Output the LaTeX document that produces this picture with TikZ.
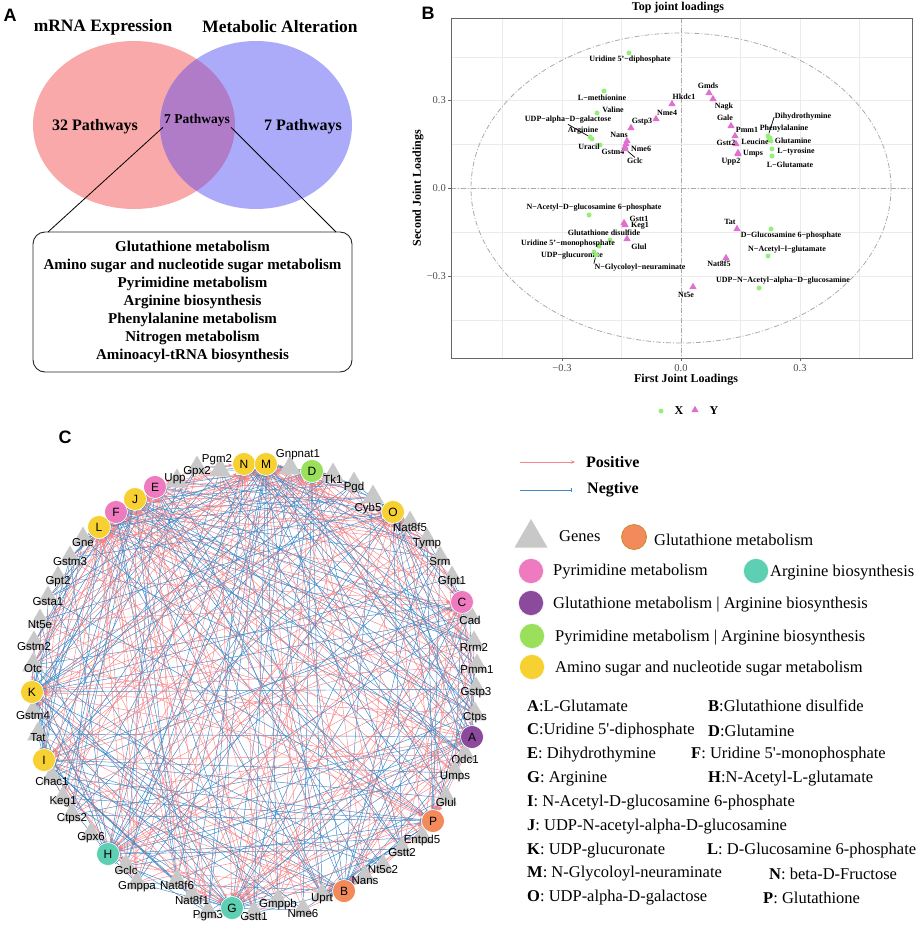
\documentclass[tikz,border=0pt]{standalone}
\usepackage{fontspec}
\setmainfont{Liberation Serif}
\setsansfont{Liberation Sans}
\usetikzlibrary{shapes.geometric,arrows.meta}
\pgfdeclarelayer{links}
\pgfsetlayers{links,main}
%
\definecolor{vennred}{HTML}{F9A9A9}
\definecolor{vennblue}{HTML}{ABABFA}
\definecolor{vennmix}{HTML}{B07CC8}
\definecolor{ptgreen}{HTML}{98EE78}
\definecolor{ptpink}{HTML}{E070D0}
\definecolor{gridgray}{HTML}{EBEBEB}
\definecolor{axgray}{HTML}{AAAAAA}
\definecolor{genegray}{HTML}{C8C8C8}
\definecolor{metyel}{HTML}{F7D031}
\definecolor{metpnk}{HTML}{EE7AC0}
\definecolor{metgrn}{HTML}{9BE05A}
\definecolor{mettea}{HTML}{5DCFB2}
\definecolor{metpur}{HTML}{8B4A9C}
\definecolor{metorg}{HTML}{F28A5B}
\definecolor{orgborder}{HTML}{C98A2A}
\definecolor{poslink}{HTML}{F4858B}
\definecolor{neglink}{HTML}{3F86C4}
%
\begin{document}
\begin{tikzpicture}
[
 x=1pt, y=-1pt,
 inner sep=0.5mm,
 PANEL/.style={font=\fontsize{18}{18}\selectfont\sffamily\bfseries},
 VTITLE/.style={font=\fontsize{17.4}{18}\selectfont\bfseries},
 VCOUNT/.style={font=\fontsize{16}{18}\selectfont\bfseries},
 VMID/.style={font=\fontsize{13.5}{15}\selectfont\bfseries, inner sep=1pt},
 PATHBOX/.style={rectangle, rounded corners=12pt, draw=black!85, line width=0.9pt, minimum width=319pt, minimum height=140pt, align=center, font=\fontsize{15}{18}\selectfont\bfseries},
 PTITLE/.style={font=\fontsize{12}{12}\selectfont\bfseries},
 AXTITLE/.style={font=\fontsize{12}{12}\selectfont\bfseries},
 TICKLBL/.style={font=\fontsize{10.5}{11}\selectfont, text=black!70, inner sep=1pt},
 GRIDMAJ/.style={draw=gridgray, line width=0.7pt},
 GRIDMIN/.style={draw=gridgray, line width=0.35pt},
 AXDASH/.style={draw=axgray, line width=0.8pt, dash pattern=on 5pt off 2pt on 1pt off 2pt},
 FRAME/.style={draw=black!60, line width=0.8pt},
 PTX/.style={circle, fill=ptgreen, minimum size=5pt, inner sep=0pt},
 PTY/.style={regular polygon, regular polygon sides=3, fill=ptpink, minimum size=8.5pt, inner sep=0pt},
 PLBL/.style={font=\fontsize{8}{9}\selectfont\bfseries, inner sep=0.5pt},
 LEAD/.style={draw=black, line width=0.7pt},
 GENE/.style={regular polygon, regular polygon sides=3, fill=genegray, minimum size=25pt, inner sep=0pt},
 GLBL/.style={font=\fontsize{11.5}{12}\selectfont\sffamily, inner sep=0pt},
 METAB/.style={circle, draw=white, line width=0.6pt, minimum size=23pt, inner sep=0pt, font=\fontsize{12}{12}\selectfont\sffamily},
 POSLINK/.style={draw=poslink, line width=0.45pt, -{Stealth[length=4pt, width=3.5pt]}},
 NEGLINK/.style={draw=neglink, line width=0.45pt, -{Bar[width=3.5pt]}},
 LEGTXT/.style={anchor=west, inner sep=0pt, font=\fontsize{16.5}{18}\selectfont},
 LEGBOLD/.style={anchor=west, inner sep=0pt, font=\fontsize{16}{18}\selectfont\bfseries},
 LEGDOT/.style={circle, draw=white, minimum size=25pt, inner sep=0pt},
 ]
\useasboundingbox (0,0) rectangle (920,925);
%
% ---------------- A : venn
\node [PANEL]  (labA)  at ( 10, 15) {A};
\node [VTITLE] (tmrna) at (103, 27) {mRNA Expression};
\node [VTITLE] (tmeta) at (280, 27) {Metabolic Alteration};
\fill [vennred]  (134,125) ellipse [x radius=101pt, y radius=84pt];
\fill [vennblue] (256,125) ellipse [x radius=96pt, y radius=84pt];
\begin{scope}
  \clip (134,125) ellipse [x radius=101pt, y radius=84pt];
  \fill [vennmix] (256,125) ellipse [x radius=96pt, y radius=84pt];
\end{scope}
\node [VCOUNT] (cleft)  at ( 95,127) {32 Pathways};
\node [VMID]   (cmid)   at (197,120) {7 Pathways};
\node [VCOUNT] (cright) at (303,127) {7 Pathways};
%
\node [PATHBOX] (pbox) at (192.5,302) {Glutathione metabolism\\
  Amino sugar and nucleotide sugar metabolism\\
  Pyrimidine metabolism\\
  Arginine biosynthesis\\
  Phenylalanine metabolism\\
  Nitrogen metabolism\\
  Aminoacyl-tRNA biosynthesis};
\coordinate (boxL) at ( 48,232);
\coordinate (boxR) at (336,232);
\draw [line width=0.8pt] (cmid.south west) -- (boxL);
\draw [line width=0.8pt] (cmid.south east) -- (boxR);
%
% ---------------- B : joint loadings
\node [PANEL]  (labB) at (428, 13) {B};
\node [PTITLE] (ptit) at (678,  8) {Top joint loadings};
\foreach \gx in {502,621,740,859} { \draw [GRIDMIN] (\gx,18) -- (\gx,358); }
\foreach \gx in {562,681,800}     { \draw [GRIDMAJ] (\gx,18) -- (\gx,358); }
\foreach \gy in {57,144,232,320}  { \draw [GRIDMIN] (451,\gy) -- (912,\gy); }
\foreach \gy in {100,188,276}     { \draw [GRIDMAJ] (451,\gy) -- (912,\gy); }
\draw [AXDASH] (681,18) -- (681,358);
\draw [AXDASH] (451,188) -- (912,188);
\draw [AXDASH] (681,188) ellipse [x radius=210pt, y radius=155pt];
\draw [FRAME] (451,18) rectangle (912,358);
%
\foreach \ty/\tl [count=\i] in {100/0.3, 188/0.0, 276/−0.3}
  {
    \draw [FRAME] (448,\ty) -- (451,\ty);
    \node [TICKLBL, anchor=east] (yt\i) at (447,\ty) {\tl};
  }
\foreach \tx/\tl [count=\i] in {562/−0.3, 681/0.0, 800/0.3}
  {
    \draw [FRAME] (\tx,358) -- (\tx,361);
    \node [TICKLBL] (xt\i) at (\tx,368) {\tl};
  }
\node [AXTITLE, rotate=90] (ytit) at (418,188) {Second Joint Loadings};
\node [AXTITLE]            (xtit) at (686,380) {First Joint Loadings};
%
\foreach \px/\py/\lx/\ly/\txt [count=\i] in
  {629/53/630/60/Uridine 5'−diphosphate,
   604/91/602/98/L−methionine,
   597/113/613/110/Valine,
   590/137/568/120/UDP−alpha−D−galactose,
   592/139/583/131/Arginine,
   600/145/589/147/Uracil,
   768/136/803/117/Dihydrothymine,
   770/138/784/129/Phenylalanine,
   771/141/793/141/Glutamine,
   769/139/755/142/Leucine,
   772/149/796/152/L−tyrosine,
   772/156/790/165/L−Glutamate,
   589/215/594/208/N−Acetyl−D−glucosamine 6−phosphate,
   610/240/604/233/Glutathione disulfide,
   599/246/568/244/Uridine 5'−monophosphate,
   594/252/572/256/UDP−glucuronate,
   596/255/640/268/N−Glycoloyl−neuraminate,
   771/229/791/236/D−Glucosamine 6−phosphate,
   768/256/787/250/N−Acetyl−l−glutamate,
   759/288/783/281/UDP−N−Acetyl−alpha−D−glucosamine}
  {
    \node [PTX]  (gx\i) at (\px,\py) {};
    \node [PLBL] (lx\i) at (\lx,\ly) {\txt};
  }
\foreach \px/\py/\lx/\ly/\txt [count=\i] in
  {709/93/708/86/Gmds, 713/99/724/107/Nagk, 672/104/684/97/Hkdc1,
   656/119/667/113/Nme4, 631/128/642/122/Gstp3, 627/141/619/135/Nans,
   626/144/641/149/Nme6, 625/147/613/152/Gstm4, 625/149/635/161/Gclc,
   731/126/725/118/Gale, 735/136/747/130/Pmm1, 736/144/726/143/Gstt2,
   738/153/753/154/Umps, 738/154/731/162/Upp2, 624/223/639/219/Gstt1,
   625/225/640/226/Keg1, 627/239/639/247/Glul, 737/229/730/222/Tat,
   726/258/719/264/Nat8f5, 693/287/686/295/Nt5e}
  {
    \node [PTY]  (gy\i) at (\px,\py) {};
    \node [PLBL] (ly\i) at (\lx,\ly) {\txt};
  }
\draw [LEAD] (lx4.south) -- (gx4);
\draw [LEAD] (lx7.west)  -- (gx7);
\draw [LEAD] (gy9) -- (ly9.north);
\draw [LEAD] (gx17) -- (lx17.north west);
%
\node [PTX]  (legx)  at (661,411) {};
\node [AXTITLE] (legxt) at (679,411) {X};
\node [PTY]  (legy)  at (695,410) {};
\node [AXTITLE] (legyt) at (714,411) {Y};
%
% ---------------- C : network
\node [PANEL] (labC) at (65,437) {C};
%
\foreach \nm/\x/\y in
  {Tk1/333/479, Pgd/354/488, Nat8f5/410/527, Tymp/427/544, Srm/440/562,
   Gfpt1/452/582, Cad/470/620, Rrm2/474/647, Pmm1/477/670, Gstp3/476/693,
   Ctps/475/718, Odc1/465/759, Umps/455/777, Glul/446/802, Entpd5/422/841,
   Gstt2/402/853, Nt5c2/383/870, Nans/365/881, Uprt/322/899, Nme6/303/914,
   Gmppb/278/905, Gstt1/254/917, Pgm3/208/916, Nat8f1/192/900, Nat8f6/177/885,
   Gmppa/137/887, Gclc/126/870, Gpx6/91/838, Ctps2/72/819, Keg1/63/802,
   Chac1/52/781, Tat/38/738, Gstm4/33/716, Otc/33/669, Gstm2/34/647,
   Nt5e/40/625, Gsta1/48/602, Gpt2/58/582, Gstm3/70/562, Gne/83/543,
   Gpx2/197/472}
  {
    \node [GENE] (\nm) at (\x,\y-4) {};
    \node [GLBL] (t\nm) at (\x,\y) {\nm};
  }
\foreach \nm/\x/\y/\lx/\ly in
  {Gnpnat1/290/468/298/455, Pgm2/220/470/217/460,
   Cyb5/373/497/368/509, Upp/177/481/175/479}
  {
    \node [GENE] (\nm) at (\x,\y) {};
    \node [GLBL] (t\nm) at (\lx,\ly) {\nm};
  }
%
\foreach \nm/\x/\y/\col in
  {N/244/464/metyel, M/266/464/metyel, D/312/471/metgrn, O/393/512/metyel,
   C/462/602/metpnk, A/472/737/metpur, P/433/821/metorg, B/344/891/metorg,
   G/232/908/mettea, H/108/854/mettea, I/44/760/metyel, K/32/692/metyel,
   L/99/527/metyel, F/116/512/metpnk, J/135/499/metyel, E/155/487/metpnk}
  {
    \node [METAB, fill=\col] (\nm) at (\x,\y) {\nm};
  }
%
\def\genelist{Gnpnat1,Tk1,Pgd,Cyb5,Nat8f5,Tymp,Srm,Gfpt1,Cad,Rrm2,Pmm1,Gstp3,
  Ctps,Odc1,Umps,Glul,Entpd5,Gstt2,Nt5c2,Nans,Uprt,Nme6,Gmppb,Gstt1,Pgm3,
  Nat8f1,Nat8f6,Gmppa,Gclc,Gpx6,Ctps2,Keg1,Chac1,Tat,Gstm4,Otc,Gstm2,Nt5e,
  Gsta1,Gpt2,Gstm3,Gne,Upp,Gpx2,Pgm2}
\pgfmathsetseed{4217}
\begin{pgfonlayer}{links}
\foreach \m in {A,B,C,D,E,F,G,H,I,J,K,L,M,N,O,P}
  \foreach \g in \genelist
    {
      \pgfmathsetmacro{\pick}{rnd}
      \ifdim \pick pt < 0.31pt \draw [POSLINK] (\g) -- (\m); \fi
      \ifdim \pick pt > 0.69pt \draw [NEGLINK] (\g) -- (\m); \fi
    }
\end{pgfonlayer}
%
% ---------------- C : legend
\coordinate (posA) at (520,462);
\coordinate (posB) at (575,462);
\coordinate (negA) at (520,490);
\coordinate (negB) at (572,490);
\draw [POSLINK, line width=0.8pt] (posA) -- (posB);
\draw [NEGLINK, line width=0.8pt] (negA) -- (negB);
\node [LEGBOLD] (tpos) at (586,462) {Positive};
\node [LEGBOLD] (tneg) at (587,490) {Negtive};
%
\node [GENE, minimum size=38pt] (leggene) at (531,538) {};
\node [LEGTXT] (tgene) at (559,536) {Genes};
\node [LEGDOT, fill=metorg, draw=orgborder, line width=0.8pt] (legglu) at (634,537) {};
\node [LEGTXT] (tglu) at (654,540) {Glutathione metabolism};
\node [LEGDOT, fill=metpnk] (legpyr) at (531,571) {};
\node [LEGTXT] (tpyr) at (553,572) {Pyrimidine metabolism};
\node [LEGDOT, fill=mettea] (legarg) at (756,571) {};
\node [LEGTXT] (targ) at (770,573) {Arginine biosynthesis};
\node [LEGDOT, fill=metpur] (leggla) at (531,603) {};
\node [LEGTXT] (tgla) at (553,605) {Glutathione metabolism | Arginine biosynthesis};
\node [LEGDOT, fill=metgrn] (legpya) at (532,636) {};
\node [LEGTXT] (tpya) at (555,638) {Pyrimidine metabolism | Arginine biosynthesis};
\node [LEGDOT, fill=metyel] (legami) at (532,667) {};
\node [LEGTXT] (tami) at (555,669) {Amino sugar and nucleotide sugar metabolism};
%
\foreach \kx/\ky/\k/\txt in
  {527/706/A/{:L-Glutamate}, 708/706/B/{:Glutathione disulfide},
   527/731/C/{:Uridine 5\textquotesingle-diphosphate}, 708/731/D/{:Glutamine},
   527/755/E/{: Dihydrothymine}, 691/755/F/{: Uridine 5\textquotesingle-monophosphate},
   527/779/G/{: Arginine}, 708/779/H/{:N-Acetyl-L-glutamate},
   527/803/I/{: N-Acetyl-D-glucosamine 6-phosphate},
   527/827/J/{: UDP-N-acetyl-alpha-D-glucosamine},
   527/851/K/{: UDP-glucuronate}, 707/851/L/{: D-Glucosamine 6-phosphate},
   527/874/M/{: N-Glycoloyl-neuraminate}, 769/874/N/{: beta-D-Fructose},
   527/898/O/{: UDP-alpha-D-galactose}, 763/898/P/{: Glutathione}}
  {
    \node [LEGTXT] (key\k) at (\kx,\ky) {\textbf{\k}\txt};
  }
%
\end{tikzpicture}
\end{document}
